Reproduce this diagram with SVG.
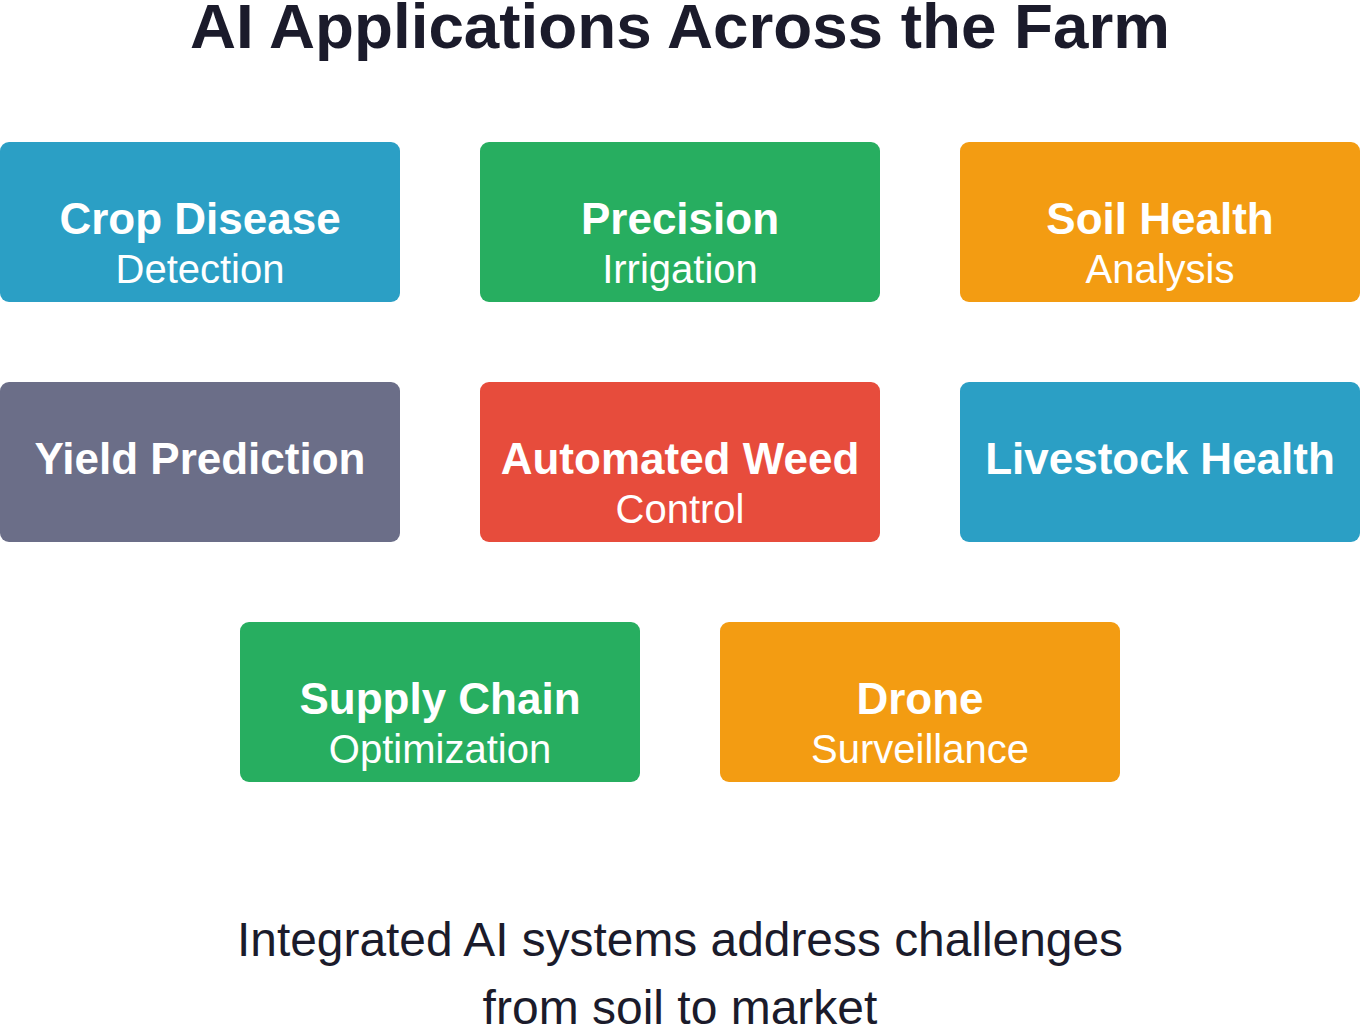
<svg xmlns="http://www.w3.org/2000/svg" width="1360" height="1026" viewBox="0 0 1360 1026">
<style>
.box{stroke:none}
.t{font-family:"Liberation Sans",Arial,sans-serif;font-weight:bold;font-size:44px;fill:#ffffff;text-anchor:middle}
.s{font-family:"Liberation Sans",Arial,sans-serif;font-size:40px;fill:#ffffff;text-anchor:middle}
.blue{fill:#2b9fc5}.green{fill:#27ae60}.orange{fill:#f39c12}.gray{fill:#6b6e88}.red{fill:#e74c3c}
.h{font-family:"Liberation Sans",Arial,sans-serif;font-weight:bold;font-size:63px;fill:#1b1b2b;text-anchor:middle}
.f{font-family:"Liberation Sans",Arial,sans-serif;font-size:48px;fill:#1b1b2b;text-anchor:middle}
</style>
<rect width="1360" height="1026" fill="#ffffff"/>
<text class="h" x="680" y="48" textLength="980" lengthAdjust="spacingAndGlyphs">AI Applications Across the Farm</text>
<g id="connectors"></g>
<g id="crop-disease"><rect class="box blue" x="0" y="142" width="400" height="160" rx="9"/><text class="t" x="200" y="234">Crop Disease</text><text class="s" x="200" y="283">Detection</text></g>
<g id="precision-irrigation"><rect class="box green" x="480" y="142" width="400" height="160" rx="9"/><text class="t" x="680" y="234">Precision</text><text class="s" x="680" y="283">Irrigation</text></g>
<g id="soil-health"><rect class="box orange" x="960" y="142" width="400" height="160" rx="9"/><text class="t" x="1160" y="234">Soil Health</text><text class="s" x="1160" y="283">Analysis</text></g>
<g id="yield-prediction"><rect class="box gray" x="0" y="382" width="400" height="160" rx="9"/><text class="t" x="200" y="474">Yield Prediction</text></g>
<g id="weed-control"><rect class="box red" x="480" y="382" width="400" height="160" rx="9"/><text class="t" x="680" y="474">Automated Weed</text><text class="s" x="680" y="523">Control</text></g>
<g id="livestock-health"><rect class="box blue" x="960" y="382" width="400" height="160" rx="9"/><text class="t" x="1160" y="474">Livestock Health</text></g>
<g id="supply-chain"><rect class="box green" x="240" y="622" width="400" height="160" rx="9"/><text class="t" x="440" y="714">Supply Chain</text><text class="s" x="440" y="763">Optimization</text></g>
<g id="drone"><rect class="box orange" x="720" y="622" width="400" height="160" rx="9"/><text class="t" x="920" y="714">Drone</text><text class="s" x="920" y="763">Surveillance</text></g>
<text class="f" x="680" y="956" textLength="886" lengthAdjust="spacingAndGlyphs">Integrated AI systems address challenges</text>
<text class="f" x="680" y="1024">from soil to market</text>
</svg>
